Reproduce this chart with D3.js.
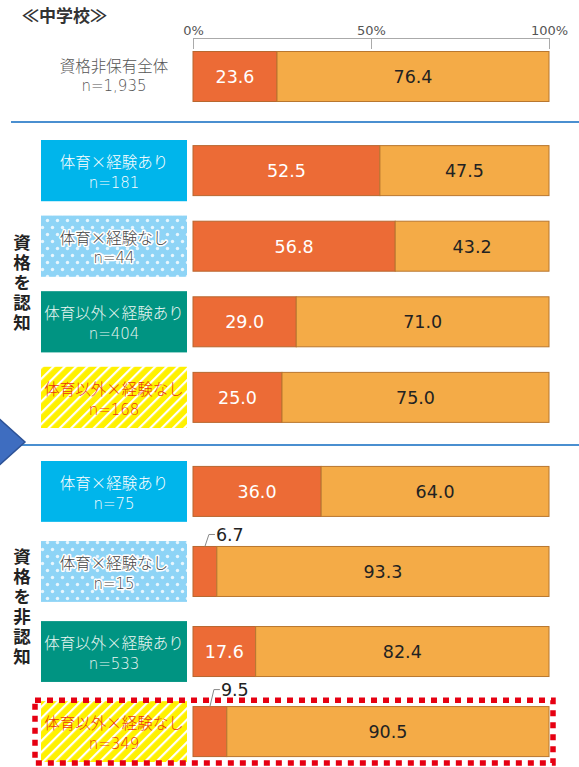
<!DOCTYPE html>
<html>
<head>
<meta charset="utf-8">
<script src="https://cdn.jsdelivr.net/npm/d3@7"></script>
<style>
  body { margin: 0; background: #fff; }
  svg text { font-family: "Noto Sans CJK JP", "Noto Sans", sans-serif; }
  svg text.num, svg tspan.num { font-family: "DejaVu Sans", "Noto Sans CJK JP", sans-serif; }
</style>
</head>
<body>
<svg width="579" height="767"></svg>
<script>
(function (d3) {
  'use strict';

  // data
  const groupNames = ['', '資格を認知', '資格を非認知'];
  const rowGroup = [0, 1, 1, 1, 1, 2, 2, 2, 2];
  const rowLabels = ['資格非保有全体', '体育×経験あり', '体育×経験なし', '体育以外×経験あり', '体育以外×経験なし',
                     '体育×経験あり', '体育×経験なし', '体育以外×経験あり', '体育以外×経験なし'];
  const rowN = ['1,935', '181', '44', '404', '168', '75', '15', '533', '349'];
  const rowKind = ['all', 'peYes', 'peNo', 'otYes', 'otNo', 'peYes', 'peNo', 'otYes', 'otNo'];
  const yesValues = [23.6, 52.5, 56.8, 29.0, 25.0, 36.0, 6.7, 17.6, 9.5];
  const noValues = [76.4, 47.5, 43.2, 71.0, 75.0, 64.0, 93.3, 82.4, 90.5];
  const tickValues = [0, 50, 100];
  const highlightRow = 8;

  const svg = d3.select('svg');

  const kindStyle = {
    all:   { fill: 'none', text: '#555' },
    peYes: { fill: '#00b5eb', text: '#fff' },
    peNo:  { fill: 'url(#dots)', text: '#444', halo: true },
    otYes: { fill: '#009482', text: '#eaf6f2' },
    otNo:  { fill: 'url(#stripes)', text: '#e8380d' }
  };

  // patterns
  const defs = svg.append('defs');
  const dots = defs.append('pattern')
    .attr('id', 'dots')
    .attr('patternUnits', 'userSpaceOnUse')
    .attr('width', 10).attr('height', 14);
  dots.append('rect').attr('width', 10).attr('height', 14).attr('fill', '#8ed4f6');
  dots.selectAll('circle').data([[2.5, 3.5], [7.5, 10.5]])
    .enter().append('circle')
      .attr('cx', d => d[0]).attr('cy', d => d[1]).attr('r', 1.7)
      .attr('fill', '#fff').attr('opacity', 0.8);

  const stripes = defs.append('pattern')
    .attr('id', 'stripes')
    .attr('patternUnits', 'userSpaceOnUse')
    .attr('width', 8).attr('height', 8)
    .attr('patternTransform', 'rotate(45)');
  stripes.append('rect').attr('width', 8).attr('height', 8).attr('fill', '#fff100');
  stripes.append('line')
    .attr('x1', 1).attr('x2', 1).attr('y1', 0).attr('y2', 8)
    .attr('stroke', '#fff').attr('stroke-width', 2.4);

  // scales
  const xScale = d3.scaleLinear().domain([0, 100]).range([193, 549]);

  const groupExtent = [[46, 107], [140, 428], [461, 762]];
  const groupPad = [0, 0.19, 0.24];
  const rowIdx = d3.range(yesValues.length);
  const yScales = groupNames.map((g, gi) => d3.scaleBand()
    .domain(rowIdx.filter(i => rowGroup[i] === gi))
    .range(groupExtent[gi])
    .paddingInner(groupPad[gi]));
  const rowTop = i => yScales[rowGroup[i]](i);
  const bandH = i => yScales[rowGroup[i]].bandwidth();
  const rowMid = i => rowTop(i) + bandH(i) / 2;
  const barH = 50;

  // title
  svg.append('text')
    .attr('x', 22).attr('y', 22)
    .attr('font-size', 17).attr('font-weight', 'bold').attr('fill', '#333')
    .text('≪中学校≫');

  // axis
  const xAxis = d3.axisTop(xScale)
    .tickValues(tickValues)
    .tickFormat(d => d + '%')
    .tickSizeInner(-11)
    .tickSizeOuter(0)
    .tickPadding(3);
  const axisG = svg.append('g')
    .attr('transform', 'translate(0,38)')
    .call(xAxis);
  axisG.select('.domain').attr('stroke', '#aaa');
  axisG.selectAll('.tick line').attr('stroke', '#aaa');
  axisG.selectAll('.tick text')
    .attr('class', 'num')
    .attr('fill', '#555')
    .style('font-size', '13px');

  // separators
  const sepY = [122, 445];
  svg.selectAll('.sep').data(sepY)
    .enter().append('line')
      .attr('class', 'sep')
      .attr('x1', 11).attr('x2', 579)
      .attr('y1', d => d).attr('y2', d => d)
      .attr('stroke', '#4a8fd0').attr('stroke-width', 2);

  // arrow tip on left
  svg.append('path')
    .attr('d', 'M-5,415 L25,442 L-5,469 Z')
    .attr('fill', '#3e6dc0').attr('stroke', '#2d5296').attr('stroke-width', 1.5);

  // group labels (vertical writing)
  svg.selectAll('.grp').data(groupNames.map((name, gi) => ({ name, gi })).filter(d => d.name))
    .enter().append('text')
      .attr('class', 'grp')
      .attr('x', 22)
      .attr('y', d => (groupExtent[d.gi][0] + groupExtent[d.gi][1]) / 2 - (d.gi === 2 ? 4 : 0))
      .attr('text-anchor', 'middle')
      .style('writing-mode', 'vertical-rl')
      .style('letter-spacing', '2.5px')
      .attr('font-size', 17.5).attr('font-weight', 'bold').attr('fill', '#222')
      .text(d => d.name);

  // label boxes
  const rows = svg.selectAll('.row').data(rowIdx)
    .enter().append('g').attr('class', 'row');

  rows.filter(i => rowKind[i] !== 'all').append('rect')
    .attr('x', 41).attr('width', 146)
    .attr('y', i => rowTop(i)).attr('height', i => bandH(i))
    .attr('fill', i => kindStyle[rowKind[i]].fill);

  const labelText = rows.append('text')
    .attr('text-anchor', 'middle')
    .attr('font-size', 15.5)
    .attr('font-weight', 300)
    .attr('fill', i => kindStyle[rowKind[i]].text)
    .attr('stroke', i => kindStyle[rowKind[i]].halo ? '#fff' : null)
    .attr('stroke-width', i => kindStyle[rowKind[i]].halo ? 3 : null)
    .attr('stroke-linejoin', 'round')
    .attr('paint-order', 'stroke');
  labelText.append('tspan')
    .attr('x', 114)
    .attr('y', i => rowMid(i) + (rowKind[i] === 'all' ? -10 : -8))
    .attr('dy', '0.35em')
    .text(i => rowLabels[i]);
  labelText.append('tspan')
    .attr('class', 'num')
    .attr('x', 114)
    .attr('y', i => rowMid(i) + (rowKind[i] === 'all' ? 9 : 12))
    .attr('dy', '0.35em')
    .attr('font-size', 15)
    .text(i => 'n=' + rowN[i]);

  // bars
  const barTop = i => rowMid(i) - barH / 2;
  rows.append('rect')
    .attr('x', xScale(0))
    .attr('y', barTop)
    .attr('width', i => xScale(yesValues[i]) - xScale(0))
    .attr('height', barH)
    .attr('fill', '#ec6b36').attr('stroke', '#b8672f').attr('stroke-width', 1);
  rows.append('rect')
    .attr('x', i => xScale(yesValues[i]))
    .attr('y', barTop)
    .attr('width', i => xScale(yesValues[i] + noValues[i]) - xScale(yesValues[i]))
    .attr('height', barH)
    .attr('fill', '#f4ab47').attr('stroke', '#b8772f').attr('stroke-width', 1);

  // value labels
  const small = i => yesValues[i] < 10;
  rows.filter(i => !small(i)).append('text')
    .attr('class', 'num')
    .attr('x', i => (xScale(0) + xScale(yesValues[i])) / 2)
    .attr('y', rowMid).attr('dy', '0.36em')
    .attr('text-anchor', 'middle')
    .attr('font-size', 17.5).attr('fill', '#fff')
    .text(i => yesValues[i].toFixed(1));
  rows.append('text')
    .attr('class', 'num')
    .attr('x', i => (xScale(yesValues[i]) + xScale(100)) / 2)
    .attr('y', rowMid).attr('dy', '0.36em')
    .attr('text-anchor', 'middle')
    .attr('font-size', 17.5).attr('fill', '#222')
    .text(i => noValues[i].toFixed(1));

  // small values with leader
  const smallRows = rows.filter(small);
  const leadUp = i => (i === highlightRow ? 17 : 12);
  smallRows.append('path')
    .attr('d', i => {
      const x0 = (xScale(0) + xScale(yesValues[i])) / 2;
      const y0 = barTop(i);
      const y1 = y0 - leadUp(i);
      return `M${x0},${y0} L${x0 + 4},${y1} L${x0 + 10},${y1}`;
    })
    .attr('fill', 'none').attr('stroke', '#888').attr('stroke-width', 1);
  smallRows.append('text')
    .attr('class', 'num')
    .attr('x', i => (xScale(0) + xScale(yesValues[i])) / 2 + 11)
    .attr('y', i => barTop(i) - leadUp(i)).attr('dy', '0.36em')
    .attr('font-size', 17.5).attr('fill', '#222')
    .text(i => yesValues[i].toFixed(1));

  // highlight frame
  svg.append('rect')
    .attr('x', 35).attr('width', 518)
    .attr('y', rowTop(highlightRow) - 1).attr('height', bandH(highlightRow) + 2)
    .attr('fill', 'none')
    .attr('stroke', '#e60012').attr('stroke-width', 5.5)
    .attr('stroke-dasharray', '6,6');

}(d3));
</script>
</body>
</html>
